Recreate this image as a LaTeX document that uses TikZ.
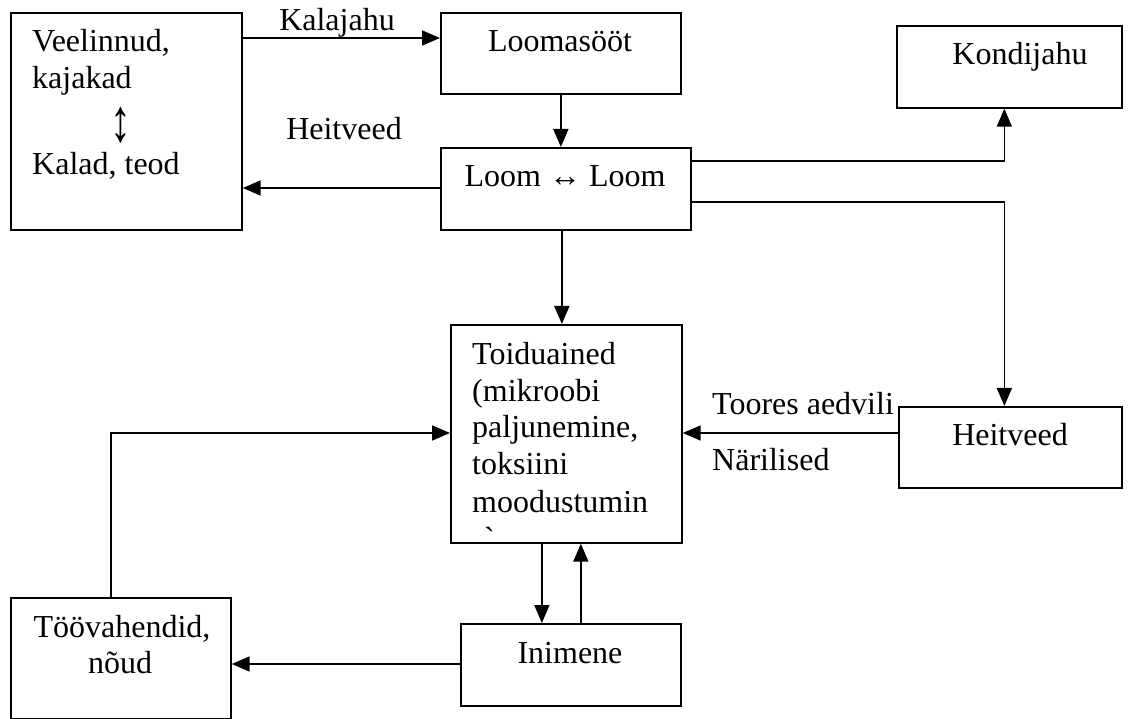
\documentclass[tikz,border=0pt]{standalone}
\usepackage{fontspec}
\setmainfont{Liberation Serif}
\newfontfamily\rawserif[Ligatures=TeXOff]{Liberation Serif}
\usetikzlibrary{arrows.meta}
\begin{document}
\begin{tikzpicture}[x=1pt,y=-1pt,
  box/.style={draw, line width=1.7pt, inner sep=0pt, anchor=north west},
  conn/.style={draw, line width=1.7pt, -{Triangle[length=18pt,width=15pt]}},
  txt/.style={inner sep=0pt, font=\fontsize{32}{37}\selectfont}]
\useasboundingbox (0,0) rectangle (1136,719);
% boxes
\node[box, minimum width=231pt, minimum height=217pt] (vb) at (10,12) {};
\node[box, minimum width=240pt, minimum height=81pt] (ls) at (440,12) {};
\node[box, minimum width=250pt, minimum height=82pt] (loom) at (440,147) {};
\node[box, minimum width=225pt, minimum height=82pt] (kond) at (896,25) {};
\node[box, minimum width=231pt, minimum height=218pt] (toit) at (450,324) {};
\node[box, minimum width=223pt, minimum height=81pt] (heit) at (898,406) {};
\node[box, minimum width=220pt, minimum height=82pt] (inim) at (460,623) {};
\node[box, minimum width=220pt, minimum height=121pt] (toov) at (10,597) {};
% texts in boxes
\node[txt, anchor=base west] (t1) at (32,52) {Veelinnud,};
\node[txt, anchor=base west] (t2) at (32,89) {kajakad};
\node[txt, anchor=center] (t3) at (121,125) {\scalebox{1.3}[1.9]{↕}};
\node[txt, anchor=base west] (t4) at (32,175) {Kalad, teod};
\node[txt, anchor=base] (t5) at (560,52) {Loomasööt};
\node[txt, anchor=base] (t6) at (565,187) {Loom ↔ Loom};
\node[txt, anchor=base] (t7) at (1020,65) {Kondijahu};
\node[txt, anchor=base west] (t8) at (472,365) {Toiduained};
\node[txt, anchor=base west] (t9) at (472,402) {(mikroobi};
\node[txt, anchor=base west] (t10) at (472,438) {paljunemine,};
\node[txt, anchor=base west] (t11) at (472,475) {toksiini};
\node[txt, anchor=base west] (t12) at (472,512) {moodustumin};
\node[txt, anchor=base west] (t13) at (484,549) {\rawserif `};
\node[txt, anchor=base] (t14) at (1010,446) {Heitveed};
\node[txt, anchor=base] (t15) at (570,663) {Inimene};
\node[txt, anchor=base] (t16) at (122,637) {Töövahendid,};
\node[txt, anchor=base] (t17) at (120,673) {nõud};
% helper coordinates
\coordinate (kA) at ([yshift=-26pt]vb.north east);
\coordinate (lA) at ([yshift=-41pt]loom.north west);
\coordinate (lB) at ([yshift=-14pt]loom.north east);
\coordinate (lC) at ([yshift=-55pt]loom.north east);
\coordinate (lD) at ([xshift=-4pt]loom.south);
\coordinate (hA) at ([yshift=-27pt]heit.north west);
\coordinate (tA) at ([yshift=-109pt]toit.north west);
\coordinate (tB) at ([xshift=-24.5pt]toit.south);
\coordinate (tC) at ([xshift=14.5pt]toit.south);
\coordinate (iA) at ([yshift=-41pt]inim.north west);
% connectors
\draw[conn] (kA) -- (kA -| ls.west);
\draw[conn] (ls.south) -- (ls.south |- loom.north);
\draw[conn] (lA) -- (lA -| vb.east);
\draw[conn] (lB) -| ([xshift=-5pt]kond.south);
\draw[conn] (lC) -| ([xshift=-6pt]heit.north);
\draw[conn] (lD) -- (lD |- toit.north);
\draw[conn] (hA) -- (hA -| toit.east);
\draw[conn] ([xshift=-10pt]toov.north) |- (tA);
\draw[conn] (tB) -- (tB |- inim.north);
\draw[conn] (tC |- inim.north) -- (tC);
\draw[conn] (iA) -- (iA -| toov.east);
% connector labels
\node[txt, anchor=base] (a1) at (337,31) {Kalajahu};
\node[txt, anchor=base] (a2) at (344,140) {Heitveed};
\node[txt, anchor=base west] (a3) at (712,415) {Toores aedvili};
\node[txt, anchor=base west] (a4) at (712,470) {Närilised};
\end{tikzpicture}
\end{document}
